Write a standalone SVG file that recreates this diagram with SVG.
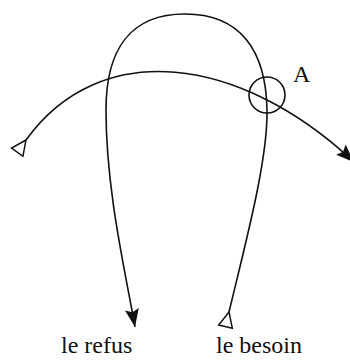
<svg xmlns="http://www.w3.org/2000/svg" width="350" height="360" viewBox="0 0 350 360">
<style>
.line{fill:none;stroke:#111;stroke-width:1.6}
.lbl{font-family:"Liberation Serif","Times New Roman",Times,serif;fill:#111}
</style>
<defs>
<marker id="filled" markerUnits="userSpaceOnUse" markerWidth="24" markerHeight="24" viewBox="-20 -10 24 20" refX="0" refY="0" orient="auto">
<path d="M0,0 L-18,-7 L-15,0 L-18,7 Z" fill="#111"/>
</marker>
<marker id="open" markerUnits="userSpaceOnUse" markerWidth="24" markerHeight="24" viewBox="-20 -10 24 20" refX="0" refY="0" orient="auto">
<path d="M0,0 L-15,-7 L-15,7 Z" fill="#fff" stroke="#111" stroke-width="1.5"/>
</marker>
</defs>
<g id="connectors">
<path id="loop" class="line" d="M229,312 C245,245 268,160 267,110 C266,50 240,14 185,14 C130,14 106,50 106,110 C106,190 125,270 135,327" marker-start="url(#open)" marker-end="url(#filled)"/>
<path id="arc" class="line" d="M26,140 C100,37 240,55 354,162" marker-start="url(#open)" marker-end="url(#filled)"/>
</g>
<g id="nodeA">
<circle cx="267" cy="95" r="18" class="line"/>
<text x="293" y="82" class="lbl" font-size="24">A</text>
</g>
<g id="refus"><text x="61" y="353" class="lbl" font-size="24">le refus</text></g>
<g id="besoin"><text x="216" y="353" class="lbl" font-size="24">le besoin</text></g>
</svg>
